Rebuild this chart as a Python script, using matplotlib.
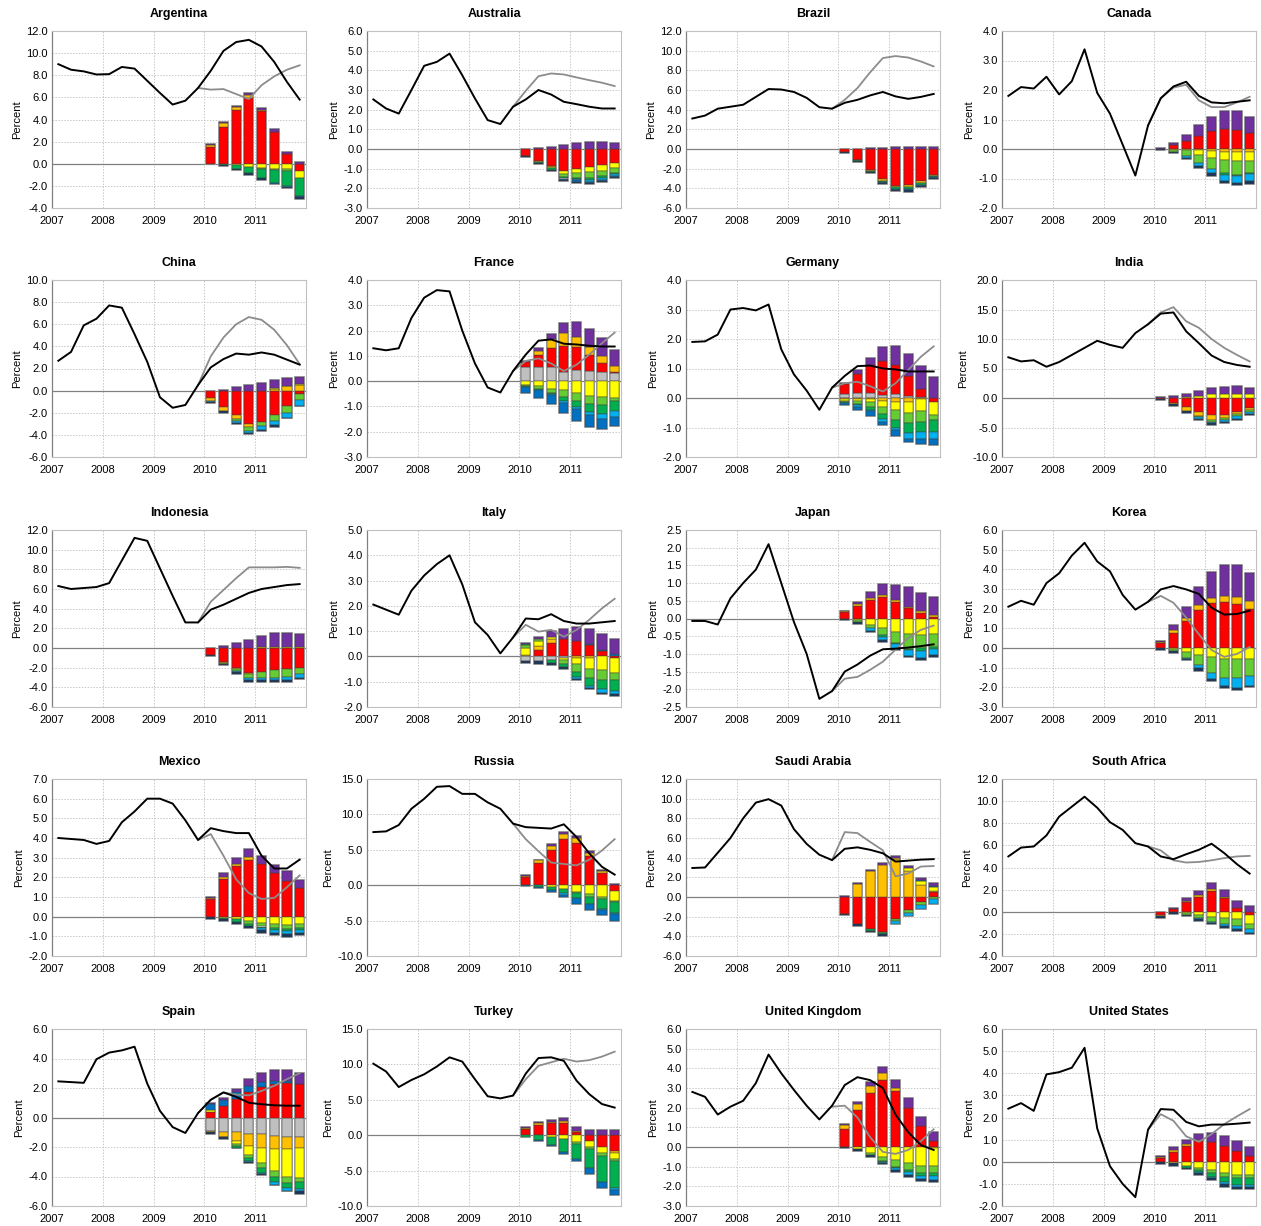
import numpy as np
import matplotlib
matplotlib.use("Agg")
import matplotlib.pyplot as plt
from matplotlib.transforms import ScaledTranslation

plt.rcParams["font.family"] = ["Liberation Sans", "DejaVu Sans"]

# quarterly positions: 2007Q1 .. 2011Q4, plotted at the middle of each quarter
quarters = np.arange(20) / 4 + 2007.125
proj_x = quarters[11:]   # projection line starts 2009Q4
bar_x = quarters[12:]    # contributions 2010Q1 .. 2011Q4
years = [2007, 2008, 2009, 2010, 2011]

# stacking order of the contribution series and their colours
ORDER = ["gray", "red", "orange", "yellow", "lgreen", "green", "cyan", "blue", "navy", "purple"]
COLORS = {
    "gray": "#BFBFBF", "red": "#FF0000", "orange": "#FFC000", "yellow": "#FFFF00",
    "lgreen": "#66CC33", "green": "#00B050", "cyan": "#00B0F0", "blue": "#0070C0",
    "navy": "#17375E", "purple": "#7030A0",
}

# ---------------- data ----------------
arg_actual = [9.0, 8.5, 8.35, 8.07, 8.1, 8.75, 8.6, 7.5, 6.4, 5.35, 5.7, 6.85, 8.4, 10.2, 11.0, 11.2, 10.6, 9.2, 7.4, 5.8]
arg_proj = [6.85, 6.7, 6.75, 6.3, 5.85, 7.1, 7.9, 8.5, 8.9]
arg_bars = {
    "red": [1.5, 3.35, 4.9, 5.9, 4.75, 2.85, 0.9, -0.7],
    "orange": [0.15, 0.3, 0.25, 0.3, 0.15, 0, 0, 0],
    "yellow": [0, 0, -0.15, -0.25, -0.35, -0.45, -0.5, -0.55],
    "lgreen": [0, 0, 0, 0, -0.15, -0.15, -0.15, 0],
    "green": [0, -0.1, -0.3, -0.6, -0.8, -1.1, -1.35, -1.65],
    "cyan": [0, 0, 0, 0, 0, 0, -0.1, 0],
    "blue": [0, 0, 0, 0, 0, -0.15, 0, -0.15],
    "navy": [-0.05, -0.1, -0.1, -0.15, -0.15, 0, -0.1, -0.1],
    "purple": [0.1, 0.1, 0.1, 0.2, 0.15, 0.25, 0.2, 0.2],
}

aus_actual = [2.52, 2.06, 1.8, 3.0, 4.23, 4.43, 4.85, 3.75, 2.57, 1.47, 1.27, 2.15, 2.52, 3.0, 2.77, 2.4, 2.28, 2.15, 2.06, 2.06]
aus_proj = [2.15, 2.96, 3.7, 3.84, 3.79, 3.64, 3.5, 3.37, 3.2]
aus_bars = {
    "red": [-0.35, -0.6, -0.85, -1.1, -1.0, -0.93, -0.83, -0.7],
    "orange": [-0.03, -0.05, -0.05, 0, 0, 0, 0, 0],
    "yellow": [0, 0, -0.05, -0.15, -0.2, -0.25, -0.3, -0.25],
    "lgreen": [0, 0, 0, -0.15, -0.25, -0.3, -0.25, -0.25],
    "green": [0, -0.05, -0.1, -0.1, -0.1, -0.1, -0.1, -0.05],
    "cyan": [0, 0, 0, -0.05, -0.05, -0.1, -0.1, -0.1],
    "blue": [0, 0, 0, -0.05, -0.1, -0.05, -0.05, -0.05],
    "navy": [-0.05, -0.08, -0.05, -0.05, -0.05, -0.05, -0.05, -0.05],
    "purple": [0, 0.05, 0.1, 0.2, 0.3, 0.38, 0.38, 0.33],
}

bra_actual = [3.1, 3.4, 4.1, 4.3, 4.5, 5.3, 6.1, 6.05, 5.8, 5.2, 4.25, 4.1, 4.7, 5.0, 5.45, 5.8, 5.35, 5.1, 5.3, 5.6]
bra_proj = [4.1, 5.0, 6.2, 7.8, 9.25, 9.45, 9.3, 8.9, 8.4]
bra_bars = {
    "red": [-0.3, -1.1, -2.1, -3.1, -3.75, -3.7, -3.3, -2.6],
    "orange": [0, -0.05, -0.1, -0.15, -0.15, -0.2, -0.15, -0.1],
    "green": [0, -0.05, -0.1, -0.15, -0.15, -0.2, -0.2, -0.15],
    "blue": [0, 0, 0, -0.1, -0.1, -0.1, -0.1, -0.1],
    "navy": [-0.15, -0.1, -0.15, -0.1, -0.15, -0.2, -0.15, -0.1],
    "purple": [0, 0, 0.1, 0.15, 0.2, 0.25, 0.25, 0.2],
}

can_actual = [1.8, 2.1, 2.05, 2.45, 1.85, 2.3, 3.38, 1.9, 1.2, 0.15, -0.9, 0.8, 1.72, 2.12, 2.28, 1.8, 1.58, 1.55, 1.6, 1.65]
can_proj = [0.8, 1.72, 2.08, 2.18, 1.65, 1.42, 1.42, 1.58, 1.77]
can_bars = {
    "red": [0, 0.12, 0.27, 0.45, 0.6, 0.68, 0.66, 0.55],
    "orange": [0, -0.03, -0.05, -0.05, -0.08, -0.1, -0.1, -0.1],
    "yellow": [0, 0, 0, -0.15, -0.22, -0.27, -0.3, -0.3],
    "lgreen": [0, -0.07, -0.2, -0.27, -0.38, -0.45, -0.47, -0.4],
    "green": [0, 0, 0, 0, 0, -0.05, -0.03, -0.05],
    "cyan": [0, 0, -0.05, -0.1, -0.15, -0.2, -0.25, -0.25],
    "navy": [-0.03, -0.05, -0.05, -0.08, -0.1, -0.08, -0.07, -0.08],
    "purple": [0.05, 0.1, 0.2, 0.37, 0.5, 0.6, 0.62, 0.55],
}

chn_actual = [2.7, 3.5, 5.9, 6.5, 7.7, 7.5, 5.1, 2.6, -0.6, -1.55, -1.3, 0.5, 2.1, 2.85, 3.35, 3.25, 3.45, 3.25, 2.8, 2.35]
chn_proj = [0.5, 3.1, 4.8, 6.0, 6.65, 6.4, 5.5, 4.1, 2.4]
chn_bars = {
    "red": [-0.7, -1.5, -2.2, -3.0, -2.8, -2.2, -1.4, -0.3],
    "orange": [-0.2, -0.35, -0.35, -0.3, 0, 0.15, 0.4, 0.55],
    "yellow": [0, 0, 0, 0, 0, 0.1, 0.05, 0.05],
    "lgreen": [0, 0, -0.2, -0.35, -0.4, -0.55, -0.6, -0.55],
    "cyan": [-0.1, 0, -0.15, -0.2, -0.35, -0.4, -0.45, -0.5],
    "navy": [-0.1, -0.2, -0.1, -0.1, -0.1, -0.1, -0.05, -0.05],
    "purple": [0, 0.1, 0.3, 0.55, 0.65, 0.7, 0.7, 0.65],
}

fra_actual = [1.3, 1.22, 1.3, 2.5, 3.3, 3.6, 3.55, 2.0, 0.7, -0.25, -0.45, 0.4, 1.05, 1.6, 1.65, 1.48, 1.45, 1.4, 1.37, 1.37]
fra_proj = [0.4, 0.8, 0.9, 0.7, 0.4, 0.65, 1.05, 1.5, 1.92]
fra_bars = {
    "gray": [0.55, 0.55, 0.55, 0.35, 0.45, 0.4, 0.37, 0.32],
    "red": [0.2, 0.5, 0.75, 1.05, 0.9, 0.65, 0.35, 0.05],
    "orange": [0, 0.15, 0.35, 0.5, 0.4, 0.3, 0.27, 0.23],
    "yellow": [-0.15, -0.2, -0.3, -0.35, -0.48, -0.57, -0.63, -0.65],
    "lgreen": [-0.03, -0.1, -0.15, -0.28, -0.32, -0.35, -0.3, -0.15],
    "green": [-0.05, -0.05, -0.05, -0.15, -0.22, -0.3, -0.37, -0.4],
    "cyan": [0, 0, -0.05, -0.1, -0.1, -0.12, -0.18, -0.2],
    "blue": [-0.25, -0.3, -0.37, -0.37, -0.45, -0.46, -0.4, -0.38],
    "purple": [0.05, 0.1, 0.22, 0.4, 0.57, 0.72, 0.73, 0.62],
}

deu_actual = [1.9, 1.92, 2.15, 3.0, 3.05, 2.97, 3.17, 1.65, 0.8, 0.25, -0.4, 0.35, 0.75, 1.08, 1.1, 1.0, 0.97, 0.9, 0.9, 0.9]
deu_proj = [0.35, 0.5, 0.55, 0.4, 0.22, 0.5, 0.95, 1.4, 1.75]
deu_bars = {
    "gray": [0.15, 0.17, 0.17, 0.1, 0.12, 0.08, 0.05, 0],
    "red": [0.32, 0.65, 0.95, 1.15, 1.0, 0.65, 0.25, -0.15],
    "orange": [-0.05, -0.05, -0.05, -0.1, -0.15, -0.15, -0.05, 0],
    "yellow": [-0.05, -0.05, -0.1, -0.2, -0.25, -0.35, -0.4, -0.42],
    "lgreen": [-0.05, -0.1, -0.15, -0.25, -0.35, -0.35, -0.35, -0.17],
    "green": [-0.03, -0.05, -0.1, -0.15, -0.25, -0.35, -0.35, -0.4],
    "cyan": [0, -0.05, -0.05, -0.1, -0.1, -0.2, -0.25, -0.25],
    "blue": [-0.07, -0.1, -0.15, -0.1, -0.2, -0.1, -0.15, -0.2],
    "purple": [0.05, 0.13, 0.25, 0.48, 0.65, 0.77, 0.78, 0.72],
}

ind_actual = [6.9, 6.2, 6.4, 5.3, 6.1, 7.3, 8.5, 9.7, 9.0, 8.5, 11.0, 12.5, 14.3, 14.5, 11.3, 9.3, 7.2, 6.1, 5.6, 5.3]
ind_proj = [12.5, 14.5, 15.4, 13.0, 11.9, 10.0, 8.5, 7.3, 6.2]
ind_bars = {
    "red": [-0.2, -0.8, -1.6, -2.4, -2.8, -2.8, -2.3, -1.7],
    "orange": [0, -0.3, -0.6, -0.7, -0.9, -0.6, -0.4, -0.3],
    "yellow": [0, 0, 0.1, 0.4, 0.6, 0.65, 0.6, 0.6],
    "lgreen": [0, 0, 0, -0.2, -0.3, -0.4, -0.4, -0.4],
    "cyan": [0, 0, 0, -0.2, -0.3, -0.3, -0.4, -0.3],
    "navy": [-0.2, -0.2, -0.3, -0.2, -0.2, -0.2, -0.2, -0.2],
    "purple": [0.15, 0.35, 0.5, 0.8, 1.1, 1.2, 1.35, 1.1],
}

idn_actual = [6.3, 6.0, 6.1, 6.2, 6.6, 8.9, 11.2, 10.9, 8.1, 5.3, 2.6, 2.6, 3.9, 4.4, 5.0, 5.6, 6.0, 6.2, 6.4, 6.5]
idn_proj = [2.6, 4.7, 5.9, 7.1, 8.2, 8.2, 8.2, 8.25, 8.15]
idn_bars = {
    "red": [-0.7, -1.4, -2.0, -2.5, -2.4, -2.2, -2.15, -2.05],
    "orange": [0, -0.15, -0.15, -0.15, 0.05, 0, 0, 0],
    "yellow": [0, 0, 0, 0, 0.1, 0.15, 0.15, 0.15],
    "lgreen": [0, -0.1, -0.2, -0.45, -0.7, -0.8, -0.75, -0.55],
    "cyan": [0, 0, -0.1, -0.2, -0.2, -0.3, -0.4, -0.5],
    "navy": [-0.1, -0.1, -0.15, -0.2, -0.2, -0.2, -0.15, -0.1],
    "purple": [0, 0.2, 0.55, 0.85, 1.1, 1.4, 1.4, 1.25],
}

ita_actual = [2.05, 1.85, 1.65, 2.6, 3.2, 3.65, 4.0, 2.85, 1.35, 0.85, 0.12, 0.75, 1.5, 1.47, 1.67, 1.4, 1.3, 1.3, 1.35, 1.4]
ita_proj = [0.75, 1.25, 0.98, 1.05, 0.78, 1.05, 1.45, 1.9, 2.28]
ita_bars = {
    "gray": [-0.2, -0.2, -0.15, -0.05, 0, 0, 0, 0],
    "red": [0, 0.25, 0.55, 0.7, 0.6, 0.45, 0.2, -0.05],
    "orange": [0.05, 0.15, 0.12, 0, -0.05, -0.05, 0, 0],
    "yellow": [0.3, 0.2, 0.08, -0.1, -0.25, -0.45, -0.55, -0.6],
    "lgreen": [0.1, 0.1, 0, -0.15, -0.3, -0.35, -0.4, -0.3],
    "green": [0.05, 0, -0.1, -0.1, -0.2, -0.3, -0.35, -0.4],
    "cyan": [0, 0, 0, 0, -0.1, -0.1, -0.15, -0.15],
    "blue": [0, 0, 0, 0, 0, 0.05, 0.05, 0.1],
    "navy": [-0.05, -0.1, -0.1, -0.08, -0.05, -0.05, -0.05, -0.05],
    "purple": [0.05, 0.05, 0.25, 0.4, 0.55, 0.6, 0.65, 0.6],
}

jpn_actual = [-0.07, -0.07, -0.17, 0.57, 1.0, 1.38, 2.1, 1.0, -0.1, -1.0, -2.27, -2.05, -1.5, -1.3, -1.05, -0.87, -0.85, -0.82, -0.78, -0.73]
jpn_proj = [-2.05, -1.7, -1.65, -1.45, -1.22, -0.88, -0.55, -0.32, -0.2]
jpn_bars = {
    "red": [0.17, 0.35, 0.52, 0.6, 0.48, 0.3, 0.15, 0.05],
    "orange": [0.03, 0.05, 0.05, 0.05, 0.03, 0.03, 0.05, 0.05],
    "yellow": [0, -0.05, -0.17, -0.28, -0.38, -0.45, -0.48, -0.45],
    "lgreen": [0, -0.05, -0.1, -0.2, -0.3, -0.4, -0.35, -0.35],
    "green": [0, 0, 0, -0.05, -0.05, -0.05, -0.08, -0.05],
    "cyan": [0, 0, -0.08, -0.07, -0.12, -0.15, -0.2, -0.18],
    "navy": [-0.03, -0.05, -0.03, -0.05, -0.05, -0.05, -0.07, -0.07],
    "purple": [0.02, 0.08, 0.18, 0.33, 0.45, 0.55, 0.53, 0.5],
}

kor_actual = [2.1, 2.4, 2.2, 3.3, 3.8, 4.7, 5.35, 4.4, 3.9, 2.7, 1.95, 2.35, 2.98, 3.15, 2.98, 2.75, 2.05, 1.7, 1.73, 1.9]
kor_proj = [2.35, 2.65, 2.3, 1.55, 0.7, -0.1, -0.45, -0.3, 0.05]
kor_bars = {
    "red": [0.25, 0.75, 1.35, 1.95, 2.3, 2.35, 2.25, 2.0],
    "orange": [0.07, 0.15, 0.17, 0.22, 0.25, 0.28, 0.35, 0.38],
    "yellow": [0, -0.05, -0.2, -0.35, -0.48, -0.58, -0.58, -0.55],
    "lgreen": [0, -0.1, -0.3, -0.52, -0.8, -0.92, -0.97, -0.85],
    "cyan": [0, 0, -0.07, -0.15, -0.3, -0.45, -0.5, -0.55],
    "navy": [-0.1, -0.1, -0.05, -0.15, -0.12, -0.1, -0.1, -0.05],
    "purple": [0.05, 0.25, 0.55, 0.95, 1.3, 1.57, 1.6, 1.45],
}

mex_actual = [4.0, 3.95, 3.9, 3.7, 3.85, 4.8, 5.35, 6.0, 6.0, 5.75, 4.9, 3.9, 4.5, 4.35, 4.25, 4.25, 3.1, 2.45, 2.45, 2.9]
mex_proj = [3.9, 4.2, 3.1, 1.9, 1.2, 0.9, 0.95, 1.5, 2.1]
mex_bars = {
    "red": [0.9, 1.9, 2.6, 2.9, 2.7, 2.2, 1.8, 1.45],
    "orange": [0.05, 0.1, 0.1, 0.15, 0, 0, 0, 0],
    "yellow": [0, -0.05, -0.1, -0.2, -0.3, -0.35, -0.4, -0.35],
    "lgreen": [0, 0, 0, -0.15, -0.2, -0.25, -0.25, -0.25],
    "green": [0, -0.05, -0.15, -0.1, -0.1, -0.1, -0.1, -0.1],
    "cyan": [0, 0, 0, 0, -0.1, -0.15, -0.15, -0.15],
    "navy": [-0.1, -0.1, -0.1, -0.15, -0.15, -0.1, -0.15, -0.1],
    "purple": [0.05, 0.2, 0.3, 0.4, 0.4, 0.45, 0.5, 0.4],
}

rus_actual = [7.5, 7.6, 8.5, 10.8, 12.2, 13.9, 14.0, 12.9, 12.9, 11.7, 10.8, 8.7, 8.2, 8.1, 8.0, 8.6, 6.8, 4.5, 2.6, 1.5]
rus_proj = [8.7, 6.5, 4.8, 3.2, 3.0, 2.8, 3.6, 4.9, 6.5]
rus_bars = {
    "red": [1.2, 3.1, 5.0, 6.5, 6.0, 4.1, 1.7, -0.8],
    "orange": [0.1, 0.4, 0.6, 0.8, 0.7, 0.5, 0.3, 0],
    "yellow": [0, 0, -0.3, -0.6, -0.9, -1.3, -1.6, -1.4],
    "lgreen": [0, 0, 0, 0, -0.2, -0.3, -0.3, -0.2],
    "green": [0, -0.2, -0.4, -0.5, -0.7, -1.0, -1.4, -1.5],
    "cyan": [0, 0, 0, -0.3, 0, 0, -0.2, -0.2],
    "blue": [-0.1, -0.2, -0.3, -0.3, -0.8, -0.9, -0.7, -0.9],
    "purple": [0.1, 0.1, 0.2, 0.2, 0.2, 0.2, 0.15, 0.2],
}

sau_actual = [2.95, 3.0, 4.5, 6.0, 8.0, 9.6, 9.95, 9.3, 6.9, 5.4, 4.3, 3.75, 4.9, 5.05, 4.8, 4.45, 3.6, 3.7, 3.8, 3.85]
sau_proj = [3.75, 6.6, 6.5, 5.6, 4.75, 2.1, 2.4, 3.1, 3.15]
sau_bars = {
    "red": [-1.7, -2.7, -3.3, -3.6, -2.2, -1.3, -0.5, 0.5],
    "orange": [0, 1.3, 2.6, 3.3, 3.85, 2.6, 1.2, 0.1],
    "yellow": [0, 0, 0, 0, 0.1, 0.3, 0.45, 0.45],
    "lgreen": [0, 0, 0, -0.1, -0.2, -0.3, -0.3, -0.2],
    "green": [0, 0, -0.15, -0.1, 0, 0, 0, 0],
    "cyan": [0, 0, 0, 0, -0.3, -0.35, -0.4, -0.5],
    "blue": [0, 0, 0, 0, 0, 0, 0.1, 0.1],
    "navy": [-0.1, -0.2, -0.1, -0.15, 0, 0, 0, 0],
    "purple": [0.1, 0.1, 0.1, 0.2, 0.2, 0.25, 0.2, 0.3],
}

zaf_actual = [5.0, 5.8, 5.9, 6.9, 8.6, 9.5, 10.4, 9.4, 8.1, 7.4, 6.2, 5.9, 5.0, 4.75, 5.2, 5.6, 6.15, 5.3, 4.3, 3.45]
zaf_proj = [5.9, 5.55, 4.65, 4.45, 4.5, 4.65, 4.85, 5.0, 5.05]
zaf_bars = {
    "red": [-0.3, 0.25, 0.9, 1.35, 1.85, 1.2, 0.3, -0.3],
    "orange": [-0.1, 0, 0.1, 0.15, 0.2, 0.15, 0, 0],
    "yellow": [0, 0, -0.1, -0.3, -0.45, -0.6, -0.7, -0.8],
    "lgreen": [0, 0, -0.2, -0.3, -0.45, -0.5, -0.6, -0.5],
    "cyan": [0, 0, 0, -0.1, -0.15, -0.2, -0.25, -0.3],
    "navy": [-0.15, -0.2, -0.1, -0.1, -0.1, -0.15, -0.15, -0.15],
    "purple": [0, 0.1, 0.25, 0.4, 0.55, 0.6, 0.7, 0.55],
}

esp_actual = [2.45, 2.4, 2.35, 3.95, 4.4, 4.55, 4.8, 2.3, 0.45, -0.65, -1.05, 0.3, 1.2, 1.7, 1.4, 1.0, 0.9, 0.83, 0.8, 0.8]
esp_proj = [0.3, 1.2, 1.7, 1.55, 1.5, 1.8, 2.15, 2.6, 3.0]
esp_bars = {
    "gray": [-0.9, -0.95, -1.0, -1.15, -1.15, -1.25, -1.3, -1.3],
    "red": [0.4, 0.8, 1.25, 1.75, 2.1, 2.3, 2.35, 2.25],
    "orange": [-0.1, -0.35, -0.6, -0.8, -0.9, -0.9, -0.85, -0.75],
    "yellow": [0.1, 0, -0.2, -0.6, -1.05, -1.5, -1.85, -2.05],
    "lgreen": [0, 0, -0.15, -0.2, -0.35, -0.4, -0.45, -0.3],
    "green": [0, -0.05, -0.1, -0.2, -0.3, -0.35, -0.35, -0.45],
    "cyan": [0, 0, 0, -0.05, -0.1, -0.15, -0.15, -0.15],
    "blue": [0.4, 0.4, 0.45, 0.4, 0.3, 0.15, 0.1, 0.05],
    "navy": [-0.1, -0.1, -0.05, -0.1, -0.05, -0.05, -0.05, -0.2],
    "purple": [0.1, 0.15, 0.2, 0.45, 0.6, 0.8, 0.75, 0.7],
}

tur_actual = [10.1, 9.0, 6.8, 7.8, 8.6, 9.7, 11.0, 10.4, 7.9, 5.5, 5.2, 5.6, 8.7, 10.9, 11.0, 10.5, 7.7, 5.8, 4.4, 3.9]
tur_proj = [5.6, 7.9, 9.8, 10.3, 10.8, 10.4, 10.6, 11.1, 11.8]
tur_bars = {
    "red": [0.9, 1.5, 1.7, 1.7, 0.5, -0.8, -1.7, -2.3],
    "orange": [0.1, 0.2, 0.2, 0.3, 0.1, 0, 0, -0.2],
    "yellow": [0, 0, -0.3, -0.6, -0.9, -0.8, -0.8, -0.9],
    "lgreen": [0, 0, 0, 0, -0.3, -0.3, -0.4, -0.3],
    "green": [-0.3, -0.7, -1.1, -1.8, -2.1, -2.8, -3.7, -3.8],
    "cyan": [0, 0, 0, 0, 0, 0, 0, -0.2],
    "blue": [0, -0.1, -0.1, -0.2, -0.4, -0.8, -0.9, -0.8],
    "purple": [0.2, 0.2, 0.3, 0.4, 0.6, 0.8, 0.8, 0.7],
}

gbr_actual = [2.8, 2.55, 1.65, 2.05, 2.35, 3.25, 4.7, 3.75, 2.9, 2.1, 1.4, 2.1, 3.15, 3.55, 3.4, 3.0, 1.65, 0.75, 0.1, -0.15]
gbr_proj = [2.05, 2.1, 1.5, 0.5, -0.25, -0.35, -0.15, 0.3, 0.9]
gbr_bars = {
    "red": [0.9, 1.9, 2.75, 3.4, 2.85, 2.0, 1.05, 0.3],
    "orange": [0.2, 0.3, 0.35, 0.35, 0.15, 0, 0, -0.05],
    "yellow": [0, -0.1, -0.3, -0.5, -0.65, -0.8, -0.95, -0.9],
    "lgreen": [0, 0, -0.1, -0.2, -0.35, -0.35, -0.35, -0.35],
    "green": [0, 0, 0, -0.05, -0.05, -0.1, -0.15, -0.15],
    "cyan": [0, 0, 0, -0.05, -0.1, -0.15, -0.2, -0.25],
    "navy": [-0.05, -0.1, -0.1, -0.07, -0.1, -0.1, -0.1, -0.1],
    "purple": [0.05, 0.1, 0.2, 0.3, 0.4, 0.5, 0.5, 0.45],
}

usa_actual = [2.4, 2.65, 2.3, 3.95, 4.05, 4.25, 5.15, 1.5, -0.2, -1.0, -1.6, 1.45, 2.38, 2.35, 1.8, 1.6, 1.68, 1.68, 1.72, 1.77]
usa_proj = [1.45, 2.15, 1.85, 1.15, 0.9, 1.25, 1.7, 2.05, 2.38]
usa_bars = {
    "red": [0.18, 0.45, 0.72, 0.95, 0.9, 0.72, 0.5, 0.27],
    "orange": [0.05, 0.1, 0.08, 0.05, 0, 0, 0, 0],
    "yellow": [0, -0.05, -0.17, -0.27, -0.38, -0.5, -0.6, -0.6],
    "lgreen": [0, 0, 0, -0.12, -0.12, -0.2, -0.15, -0.15],
    "green": [0, 0, -0.1, -0.08, -0.18, -0.22, -0.3, -0.3],
    "cyan": [0, 0, 0, -0.05, -0.05, -0.1, -0.1, -0.1],
    "navy": [-0.1, -0.15, -0.08, -0.08, -0.1, -0.1, -0.1, -0.1],
    "purple": [0.05, 0.1, 0.17, 0.27, 0.38, 0.43, 0.43, 0.4],
}

# (title, actual, projection, contributions, y-min, y-max, y-step)
panels = [
    ("Argentina", arg_actual, arg_proj, arg_bars, -4, 12, 2),
    ("Australia", aus_actual, aus_proj, aus_bars, -3, 6, 1),
    ("Brazil", bra_actual, bra_proj, bra_bars, -6, 12, 2),
    ("Canada", can_actual, can_proj, can_bars, -2, 4, 1),
    ("China", chn_actual, chn_proj, chn_bars, -6, 10, 2),
    ("France", fra_actual, fra_proj, fra_bars, -3, 4, 1),
    ("Germany", deu_actual, deu_proj, deu_bars, -2, 4, 1),
    ("India", ind_actual, ind_proj, ind_bars, -10, 20, 5),
    ("Indonesia", idn_actual, idn_proj, idn_bars, -6, 12, 2),
    ("Italy", ita_actual, ita_proj, ita_bars, -2, 5, 1),
    ("Japan", jpn_actual, jpn_proj, jpn_bars, -2.5, 2.5, 0.5),
    ("Korea", kor_actual, kor_proj, kor_bars, -3, 6, 1),
    ("Mexico", mex_actual, mex_proj, mex_bars, -2, 7, 1),
    ("Russia", rus_actual, rus_proj, rus_bars, -10, 15, 5),
    ("Saudi Arabia", sau_actual, sau_proj, sau_bars, -6, 12, 2),
    ("South Africa", zaf_actual, zaf_proj, zaf_bars, -4, 12, 2),
    ("Spain", esp_actual, esp_proj, esp_bars, -6, 6, 2),
    ("Turkey", tur_actual, tur_proj, tur_bars, -10, 15, 5),
    ("United Kingdom", gbr_actual, gbr_proj, gbr_bars, -3, 6, 1),
    ("United States", usa_actual, usa_proj, usa_bars, -2, 6, 1),
]

# ---------------- layout ----------------
W, H = 1261, 1226
fig = plt.figure(figsize=(W / 100, H / 100), dpi=100)
col_left = [52, 367, 686, 1002]
row_top = [31, 280, 530, 779, 1029]
ax_w, ax_h = 254, 177
BAR_W = 0.18


def draw_bars(ax, bars):
    pos = np.zeros(len(bar_x))
    neg = np.zeros(len(bar_x))
    for name in ORDER:
        if name not in bars:
            continue
        vals = np.array(bars[name], dtype=float)
        for i, v in enumerate(vals):
            if v == 0:
                continue
            base = pos[i] if v > 0 else neg[i]
            ax.bar(bar_x[i], v, BAR_W, bottom=base, color=COLORS[name],
                   edgecolor="#404040", linewidth=0.35, zorder=3)
            if v > 0:
                pos[i] += v
            else:
                neg[i] += v
    # light grey outline around each whole stack
    ax.bar(bar_x, pos - neg, BAR_W, bottom=neg, color="none",
           edgecolor="#B0B0B0", linewidth=1.4, zorder=2.5)


for k, (title, actual, proj, bars, ymin, ymax, step) in enumerate(panels):
    r, c = divmod(k, 4)
    left = col_left[c]
    top = row_top[r]
    ax = fig.add_axes([left / W, 1 - (top + ax_h) / H, ax_w / W, ax_h / H])

    draw_bars(ax, bars)
    ax.plot(proj_x, proj, color="#8C8C8C", linewidth=1.3, zorder=4)
    ax.plot(quarters, actual, color="black", linewidth=1.4, zorder=5)
    ax.axhline(0, color="#808080", linewidth=0.9, zorder=2)

    ax.set_xlim(2007, 2012)
    ax.set_ylim(ymin, ymax)
    yt = np.arange(ymin, ymax + step / 2, step)
    ax.set_yticks(yt)
    ax.set_yticklabels([f"{v:.1f}" for v in yt])
    ax.set_xticks(years)
    ax.set_xticklabels([str(y) for y in years])
    shift = ScaledTranslation(5 / 100, 0, fig.dpi_scale_trans)
    for lab in ax.get_xticklabels():
        lab.set_transform(lab.get_transform() + shift)

    ax.grid(True, color="#C8C8C8", linestyle=(0, (1.5, 1.5)), linewidth=0.7, zorder=0)
    ax.set_axisbelow(True)
    ax.tick_params(axis="y", length=0, labelsize=8, pad=3, colors="black")
    ax.tick_params(axis="x", length=0, labelsize=8, pad=6, colors="black")
    for side in ["top", "right", "bottom"]:
        ax.spines[side].set_color("#C0C0C0")
        ax.spines[side].set_linewidth(0.8)
    ax.spines["left"].set_color("#808080")
    ax.spines["left"].set_linewidth(0.9)

    ax.set_title(title, fontsize=9, fontweight="bold", pad=10)
    ax.set_ylabel("Percent", fontsize=8, labelpad=3)

fig.savefig("out.png", dpi=100, facecolor="white")
